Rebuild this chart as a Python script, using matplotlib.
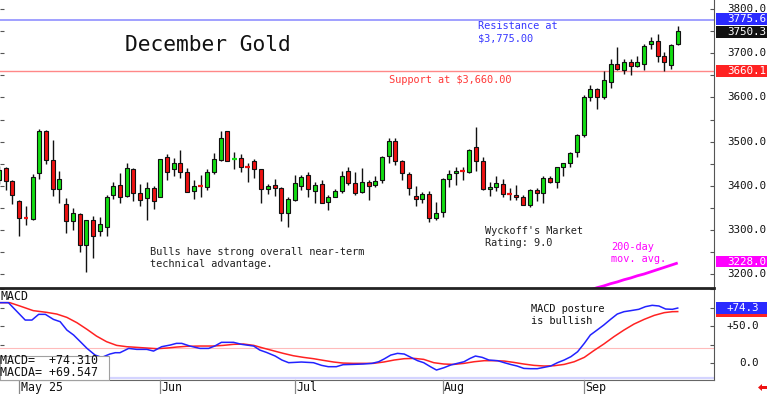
import matplotlib
matplotlib.use('Agg')
import matplotlib.pyplot as plt
from matplotlib.patches import Rectangle, Polygon
from matplotlib.lines import Line2D
from matplotlib.transforms import blended_transform_factory
import numpy as np

# ---------------- data ----------------
opens = [3412, 3440, 3411, 3366, 3327, 3324, 3428, 3525, 3458, 3393,
         3359, 3319, 3336, 3266, 3322, 3298, 3307, 3379, 3402, 3377,
         3437, 3383, 3372, 3394, 3374, 3464, 3437, 3452, 3430, 3387,
         3401, 3398, 3432, 3458, 3523, 3460, 3462, 3442, 3456, 3437,
         3393, 3402, 3394, 3338, 3368, 3400, 3425, 3389, 3404, 3364,
         3375, 3387, 3434, 3406, 3385, 3408, 3402, 3412, 3468, 3502,
         3455, 3427, 3377, 3369, 3381, 3326, 3341, 3415, 3428, 3433,
         3430, 3487, 3456, 3392, 3398, 3404, 3381, 3379, 3375, 3357,
         3391, 3383, 3417, 3409, 3442, 3451, 3477, 3516, 3600, 3619,
         3602, 3636, 3675, 3662, 3680, 3672, 3677, 3721, 3728, 3693,
         3674, 3721]
highs = [3445, 3442, 3413, 3368, 3353, 3426, 3528, 3526, 3504, 3434,
         3372, 3349, 3339, 3323, 3332, 3329, 3379, 3409, 3428, 3451,
         3440, 3404, 3409, 3400, 3461, 3472, 3462, 3481, 3440, 3412,
         3424, 3437, 3474, 3523, 3525, 3476, 3472, 3452, 3460, 3437,
         3404, 3415, 3397, 3374, 3425, 3425, 3431, 3409, 3412, 3379,
         3392, 3434, 3442, 3430, 3440, 3412, 3422, 3468, 3508, 3508,
         3459, 3432, 3400, 3385, 3388, 3364, 3417, 3436, 3443, 3443,
         3483, 3532, 3465, 3409, 3421, 3415, 3394, 3402, 3379, 3392,
         3394, 3422, 3421, 3442, 3452, 3477, 3517, 3606, 3628, 3622,
         3660, 3687, 3715, 3687, 3687, 3695, 3721, 3738, 3743, 3704,
         3721, 3763]
lows = [3405, 3390, 3358, 3287, 3311, 3322, 3415, 3449, 3377, 3362,
        3292, 3300, 3249, 3205, 3236, 3286, 3286, 3369, 3360, 3374,
        3366, 3355, 3322, 3347, 3374, 3412, 3423, 3417, 3385, 3369,
        3375, 3390, 3426, 3455, 3455, 3437, 3432, 3409, 3417, 3362,
        3381, 3377, 3319, 3306, 3366, 3391, 3375, 3362, 3360, 3344,
        3374, 3383, 3402, 3379, 3383, 3368, 3397, 3407, 3451, 3447,
        3412, 3379, 3354, 3362, 3317, 3323, 3329, 3397, 3402, 3412,
        3428, 3434, 3391, 3377, 3387, 3374, 3368, 3368, 3357, 3351,
        3366, 3362, 3407, 3394, 3421, 3442, 3464, 3511, 3591, 3574,
        3597, 3621, 3662, 3653, 3651, 3668, 3662, 3710, 3681, 3660,
        3665, 3719]
closes = [3436, 3411, 3379, 3326, 3325, 3419, 3525, 3458, 3393, 3415,
          3319, 3338, 3266, 3322, 3286, 3313, 3374, 3400, 3375, 3440,
          3383, 3368, 3394, 3366, 3460, 3432, 3452, 3430, 3385, 3400,
          3400, 3430, 3460, 3508, 3457, 3461, 3442, 3441, 3437, 3392,
          3400, 3396, 3338, 3369, 3406, 3419, 3392, 3402, 3362, 3375,
          3387, 3423, 3406, 3383, 3409, 3400, 3411, 3466, 3502, 3455,
          3428, 3394, 3369, 3381, 3326, 3339, 3415, 3427, 3434, 3432,
          3481, 3457, 3392, 3398, 3406, 3381, 3380, 3375, 3357, 3391,
          3383, 3417, 3409, 3442, 3451, 3475, 3515, 3600, 3619, 3602,
          3640, 3677, 3665, 3680, 3672, 3680, 3717, 3728, 3695, 3680,
          3719, 3750.3]

ma200_idx = list(range(86, 102))
ma200 = [3156, 3160, 3164, 3169, 3173, 3178, 3182, 3187, 3191, 3196,
         3200, 3205, 3210, 3215, 3220, 3225]

macd_points = [(0, 81.6), (1.4, 81.6), (3.9, 58.1), (4.9, 58.1), (5.9, 65.8), (6.9, 65.8),
               (8.1, 59.0), (9.1, 55.9), (10.1, 44.6), (11.1, 37.9), (12.1, 28.9), (13.1, 19.8),
               (14.3, 10.8), (15.3, 7.7), (16.5, 12.2), (17.3, 14.0), (18.0, 14.0), (19.3, 19.8),
               (20.5, 18.5), (22.0, 18.5), (23.0, 16.2), (24.2, 22.1), (25.5, 24.4), (26.4, 26.6),
               (27.2, 26.6), (28.4, 23.0), (29.9, 19.8), (31.2, 19.8), (32.1, 23.0), (33.1, 28.0),
               (34.9, 28.0), (36.1, 25.3), (37.9, 23.0), (38.8, 17.6), (39.8, 14.4), (41.1, 9.5),
               (42.1, 4.1), (43.1, 0.5), (45.0, 1.4), (46.8, 0.5), (48.0, -3.1), (49.0, -4.9),
               (50.2, -4.9), (51.2, -2.2), (52.7, -1.8), (54.2, -1.3), (55.5, -0.4), (56.5, 1.8),
               (57.3, 5.5), (58.3, 10.8), (59.3, 13.1), (60.3, 12.2), (61.3, 7.7), (62.3, 3.2),
               (63.2, 0.5), (64.2, -4.9), (65.1, -9.4), (66.2, -6.3), (67.2, -2.7), (68.2, -0.4),
               (69.2, 1.8), (70.1, 6.3), (70.9, 9.5), (71.9, 7.7), (72.9, 4.1), (74.2, 3.2),
               (75.2, 0.5), (76.1, -1.8), (77.1, -4.0), (78.1, -7.2), (79.1, -7.6), (80.1, -7.6),
               (81.1, -5.8), (82.1, -4.0), (83.1, 0.5), (84.1, 4.1), (85.1, 8.6), (86.1, 15.3),
               (87.1, 26.6), (88.0, 37.9), (89.0, 44.6), (90.0, 51.4), (91.0, 59.0), (92.0, 66.2),
               (93.0, 69.4), (94.0, 70.8), (95.2, 72.6), (96.2, 76.2), (97.2, 78.0), (98.2, 77.1),
               (99.2, 73.0), (100.2, 72.6), (101.0, 74.31)]
signal_points = [(0, 81.6), (1.6, 81.6), (3.1, 77.1), (5.1, 70.8), (7.1, 68.5), (8.6, 66.2),
                 (10.1, 61.7), (11.6, 54.5), (13.1, 45.5), (14.5, 36.5), (16.0, 28.9), (17.5, 23.9),
                 (19.0, 22.1), (20.5, 21.2), (22.0, 20.3), (23.5, 19.4), (25.0, 20.3), (26.4, 21.6),
                 (27.9, 22.6), (29.9, 23.0), (31.9, 23.0), (33.4, 23.9), (34.9, 25.3), (36.4, 25.7),
                 (37.9, 23.9), (39.3, 20.3), (40.8, 16.7), (42.3, 13.1), (43.8, 9.9), (45.3, 7.7),
                 (46.8, 5.9), (48.3, 3.6), (49.8, 1.4), (51.2, 0.0), (52.7, -0.4), (55.7, -0.4),
                 (57.3, 1.5), (58.8, 4.1), (60.3, 5.9), (61.8, 6.3), (63.2, 5.0), (64.7, 0.5),
                 (66.2, -1.3), (67.7, -1.8), (69.2, -0.4), (70.7, 1.8), (72.2, 3.2), (73.7, 3.2),
                 (75.2, 2.7), (76.6, 0.9), (78.1, -1.3), (79.6, -3.1), (81.1, -4.0), (82.6, -3.6),
                 (84.1, -1.8), (85.6, 1.8), (87.1, 7.7), (88.5, 16.7), (90.0, 25.7), (91.5, 35.6),
                 (93.0, 44.6), (94.5, 52.7), (96.0, 59.0), (97.5, 64.4), (99.0, 68.1), (100.2, 69.4),
                 (101.0, 69.547)]

month_labels = ["May 25", "Jun", "Jul", "Aug", "Sep"]
month_idx = [3, 24, 44, 66, 87]
price_ticks = [3200, 3300, 3400, 3500, 3600, 3700, 3800]
macd_ticks = [0, 50]
resistance = 3775.6
support = 3660.1
last_close = 3750.3
ma_label_value = 3228.0
macd_last = 74.310
macda_last = 69.547

# ---------------- style ----------------
W, H = 768, 394
MONO = 'DejaVu Sans Mono'
GREEN = '#11dd11'
RED = '#ee1111'
BLUE_LINE = '#2222ff'
RED_LINE = '#ff2222'
MAGENTA = '#ff00ff'
RFS = 7.8  # right-hand label font size

def fx(px):
    return px / W

def fy(py):
    return 1 - py / H

fig = plt.figure(figsize=(W / 100, H / 100), dpi=100)
fig.patch.set_facecolor('white')

ax = fig.add_axes([0, fy(287.5), fx(714), 287.5 / H])
axm = fig.add_axes([0, fy(379.5), fx(714), (379.5 - 288) / H])

xlim = (1 / 6.72, 715 / 6.72)
ax.set_xlim(*xlim)
axm.set_xlim(*xlim)
ax.set_ylim(3169.4, 3820.9)
axm.set_ylim(-22.2, 101.4)
PX_PER_PRICE = 287.5 / (3820.9 - 3169.4)
PX_PER_MACD = (379.5 - 288) / (101.4 + 22.2)

# ---------------- candles ----------------
body_w = 0.6
for i, (o, h, l, c) in enumerate(zip(opens, highs, lows, closes)):
    col = GREEN if c >= o else RED
    ax.vlines(i, l, h, color='#111111', lw=1.0, zorder=2)
    if abs(c - o) < 2.5:
        ax.hlines((o + c) / 2, i - 0.35, i + 0.35, color=col, lw=1.6, zorder=3)
    else:
        ax.add_patch(Rectangle((i - body_w / 2, min(o, c)), body_w, abs(c - o),
                               facecolor=col, edgecolor='#111111', lw=0.8, zorder=3))

ax.axhline(resistance, color='#a0a0ff', lw=1.4, zorder=1)
ax.axhline(support, color='#ff8888', lw=1.0, zorder=1)
ax.plot(ma200_idx, ma200, color=MAGENTA, lw=2.0, solid_capstyle='butt', zorder=4)

# ---------------- MACD ----------------
mx, mv = zip(*macd_points)
sx, sv = zip(*signal_points)
axm.axhline(20, color='#ffbbbb', lw=0.8, zorder=1)
axm.axhline(-19.8, color='#d4d4ff', lw=1.6, zorder=1)
axm.plot(sx, sv, color=RED_LINE, lw=1.1, zorder=3)
axm.plot(mx, mv, color=BLUE_LINE, lw=1.1, zorder=3)

# ---------------- axes styling ----------------
for a in (ax, axm):
    a.set_xticks([])
    a.set_facecolor('none')
    a.spines['left'].set_visible(False)
    a.spines['right'].set_color('#555555')
    a.tick_params(axis='y', left=True, right=True, direction='in', length=3,
                  width=0.8, color='#555555', labelleft=False, labelright=False)
ax.spines['top'].set_visible(False)
ax.spines['bottom'].set_visible(False)
axm.spines['top'].set_color('#222222')
axm.spines['top'].set_linewidth(2.0)
axm.spines['bottom'].set_color('#666666')
ax.set_yticks(np.arange(3200, 3821, 50))
axm.set_yticks([0, 25, 50, 75, 100])

# ---------------- right-hand labels ----------------
tp = blended_transform_factory(fig.transFigure, ax.transData)
tm = blended_transform_factory(fig.transFigure, axm.transData)

for v in price_ticks:
    fig.text(fx(766), v, f"{v:.1f}", transform=tp, ha='right', va='center',
             family=MONO, size=RFS, color='#111111')

def price_box(v, face, shift_px=0.0):
    # shift_px: small vertical nudge (pixels, up positive) to keep boxes apart
    yc = v + shift_px / PX_PER_PRICE
    h = 11.5 / PX_PER_PRICE
    fig.add_artist(Rectangle((fx(715.7), yc - h / 2), fx(767) - fx(715.7), h,
                             transform=tp, facecolor=face, edgecolor='none', zorder=5))
    fig.text(fx(766), yc, f"{v:.1f}", transform=tp, ha='right', va='center',
             family=MONO, size=RFS, color='white', zorder=6)

price_box(resistance, '#2a2aff', shift_px=1.2)
price_box(last_close, '#111111', shift_px=-0.6)
price_box(support, '#ff2222')
price_box(ma_label_value, MAGENTA)

for v in macd_ticks:
    lab = f"+{v:.1f}" if v > 0 else f"{v:.1f}"
    fig.text(fx(759), v, lab, transform=tm, ha='right', va='center',
             family=MONO, size=RFS, color='#111111')

def macd_box(v, face, show_text):
    h = 11.5 / PX_PER_MACD
    fig.add_artist(Rectangle((fx(715.7), v - h / 2), fx(767) - fx(715.7), h,
                             transform=tm, facecolor=face, edgecolor='none', zorder=5))
    if show_text:
        fig.text(fx(759), v, f"+{v:.1f}", transform=tm, ha='right', va='center',
                 family=MONO, size=RFS, color='white', zorder=6)

macd_box(macda_last, '#ff2222', False)
macd_box(macd_last, '#2a2aff', True)

# ---------------- annotations ----------------
fig.text(fx(208), fy(45), "December Gold", ha='center', va='center',
         family=MONO, size=15.3, color='#111111')
fig.text(fx(478), fy(32.3), "Resistance at\n$3,775.00", ha='left', va='center',
         family=MONO, size=7.4, color='#3838ff', linespacing=1.3)
fig.text(fx(388.7), fy(79.7), "Support at $3,660.00", ha='left', va='center',
         family=MONO, size=7.4, color='#ff3838')
fig.text(fx(150), fy(258), "Bulls have strong overall near-term\ntechnical advantage.",
         ha='left', va='center', family=MONO, size=7.4, color='#222222', linespacing=1.3)
fig.text(fx(485), fy(237), "Wyckoff's Market\nRating: 9.0", ha='left', va='center',
         family=MONO, size=7.4, color='#222222', linespacing=1.3)
fig.text(fx(611.3), fy(253.3), "200-day\nmov. avg.", ha='left', va='center',
         family=MONO, size=7.4, color=MAGENTA, linespacing=1.3)
fig.text(fx(531.3), fy(315), "MACD posture\nis bullish", ha='left', va='center',
         family=MONO, size=7.4, color='#111111', linespacing=1.3)

fig.text(fx(0.5), fy(296), "MACD", ha='left', va='center', family=MONO, size=8.4,
         color='#111111')
fig.add_artist(Rectangle((0, fy(379.5)), fx(109), (379.5 - 356) / H,
                         transform=fig.transFigure, facecolor='white',
                         edgecolor='#a0a0a0', lw=0.8, zorder=4))
fig.text(fx(0.5), fy(361), f"MACD=  +{macd_last:.3f}", ha='left', va='center',
         family=MONO, size=8.4, color='#111111', zorder=6)
fig.text(fx(0.5), fy(372.7), f"MACDA= +{macda_last:.3f}", ha='left', va='center',
         family=MONO, size=8.4, color='#111111', zorder=6)

# month separators and labels
tx = blended_transform_factory(axm.transData, fig.transFigure)
for lab, mi in zip(month_labels, month_idx):
    fig.add_artist(Line2D([mi, mi], [fy(380), fy(394)], transform=tx,
                          color='#888888', lw=0.9))
    fig.text(mi + 0.2, fy(387.5), lab, transform=tx, ha='left', va='center',
             family=MONO, size=8.4, color='#111111')

# small red arrow at bottom-right
arrow = [(758, 387.5), (762, 384), (762, 386), (767, 386), (767, 389), (762, 389), (762, 391)]
fig.add_artist(Polygon([(fx(x), fy(y)) for x, y in arrow], closed=True,
                       transform=fig.transFigure, facecolor='#ee1111', edgecolor='none'))

fig.savefig('out.png', dpi=100, facecolor='white')
